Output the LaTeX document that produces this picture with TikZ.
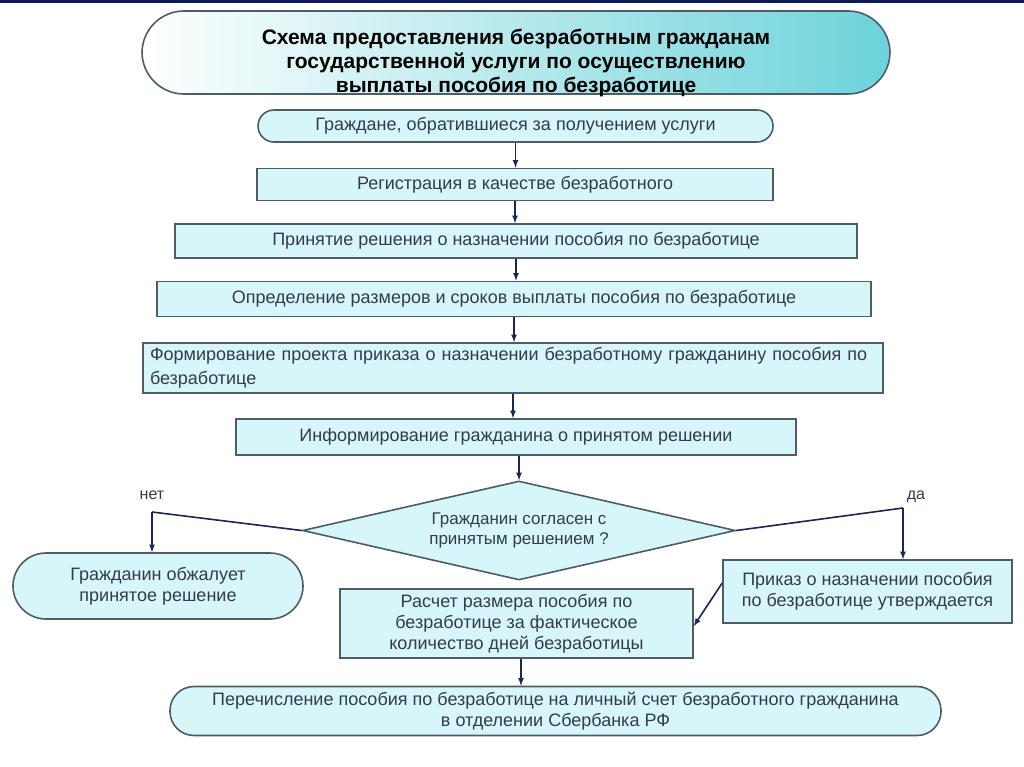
\documentclass[tikz,border=0pt]{standalone}
\usepackage{fontspec}
\setmainfont{Liberation Sans}
\usepackage{tikz}
\usetikzlibrary{shapes,arrows}
\definecolor{fillc}{HTML}{D6F6FA}
\definecolor{edgec}{HTML}{4E5C68}
\definecolor{arrc}{HTML}{1C2656}
\definecolor{txtc}{HTML}{333B4C}
\definecolor{titc}{HTML}{6DD3DA}
\definecolor{barc}{HTML}{0E1A5C}

\begin{document}
\begin{tikzpicture}[x=1pt,y=-1pt,>=latex,
    blk/.style={draw=edgec,line width=1.6pt,fill=fillc,inner sep=0pt,text=txtc,
        font=\fontsize{18}{21}\selectfont,align=center},
    rnd/.style={blk,rounded corners=#1},
    cond/.style={blk,diamond,aspect=4.37,minimum width=433pt,minimum height=99pt,
        font=\fontsize{17}{20}\selectfont},
    arr/.style={->,line width=1.6pt,draw=arrc},
    lbl/.style={text=txtc,font=\fontsize{16}{19}\selectfont}]
    \useasboundingbox (0,0) rectangle (1024,767);
    \fill [barc] (0,0) rectangle (1024,3);

    % Draw the title
    \shade [draw=edgec,line width=1.6pt,rounded corners=42pt,left color=white,right color=titc]
        (142,11) rectangle (890,94);
    \node (title) [align=center,text=black,font=\bfseries\fontsize{21}{24}\selectfont] at (516,63)
        {Схема предоставления безработным гражданам\\государственной услуги по осуществлению\\выплаты пособия по безработице};

    % Draw the main chain
    \node (b1) [rnd=16,minimum width=515pt,minimum height=32pt] at (515.5,126)
        {Граждане, обратившиеся за получением услуги};
    \node (b2) [blk,minimum width=516pt,minimum height=32pt] at (515,184.5)
        {Регистрация в качестве безработного};
    \node (b3) [blk,minimum width=682pt,minimum height=34pt] at (516,241)
        {Принятие решения о назначении пособия по безработице};
    \node (b4) [blk,minimum width=714pt,minimum height=35pt] at (514,299)
        {Определение размеров и сроков выплаты пособия по безработице};
    \node (b5) [blk,align=left,inner xsep=7pt,text width=726pt,minimum height=50pt,
        font=\fontsize{18}{24}\selectfont] at (513,368)
        {Формирование проекта приказа о назначении безработному гражданину пособия по\\безработице};
    \node (b6) [blk,minimum width=560pt,minimum height=36pt] at (516,437)
        {Информирование гражданина о принятом решении};
    \node (dec) [cond] at (519,530.5)
        {Гражданин согласен с\\принятым решением ?};

    % Draw the branches
    \node (appeal) [rnd=33,minimum width=290pt,minimum height=66pt] at (158,586)
        {Гражданин обжалует\\принятое решение};
    \node (order) [blk,minimum width=289pt,minimum height=63pt] at (867.5,591.5)
        {Приказ о назначении пособия\\по безработице утверждается};
    \node (calc) [blk,minimum width=353pt,minimum height=69pt] at (516.5,623.5)
        {Расчет размера пособия по\\безработице за фактическое\\количество дней безработицы};
    \node (final) [rnd=24,minimum width=771pt,minimum height=49pt] at (555.5,711)
        {Перечисление пособия по безработице на личный счет безработного гражданина\\в отделении Сбербанка РФ};

    \coordinate (no) at (152,512);
    \coordinate (yes) at (903,508);
    \node (nolbl) [lbl] at (152,495) {нет};
    \node (yeslbl) [lbl] at (916,497) {да};

    % Draw the arrows
    \draw [arr] (b1.south) -- (b1.south |- b2.north);
    \draw [arr] (b2.south) -- (b2.south |- b3.north);
    \draw [arr] (b3.south) -- (b3.south |- b4.north);
    \draw [arr] (b4.south) -- (b4.south |- b5.north);
    \draw [arr] (b5.south) -- (b5.south |- b6.north);
    \draw [arr] (dec.north |- b6.south) -- (dec.north);
    \draw [line width=1.6pt,draw=arrc] (dec.west) -- (no);
    \draw [arr] (no) -- (no |- appeal.north);
    \draw [line width=1.6pt,draw=arrc] (dec.east) -- (yes);
    \draw [arr] (yes) -- (yes |- order.north);
    \draw [arr] ([yshift=8.5pt]order.west) -- ([yshift=-2.5pt]calc.east);
    \draw [arr] ([xshift=4.5pt]calc.south) -- ([xshift=4.5pt]calc.south |- final.north);

\end{tikzpicture}
\end{document}
